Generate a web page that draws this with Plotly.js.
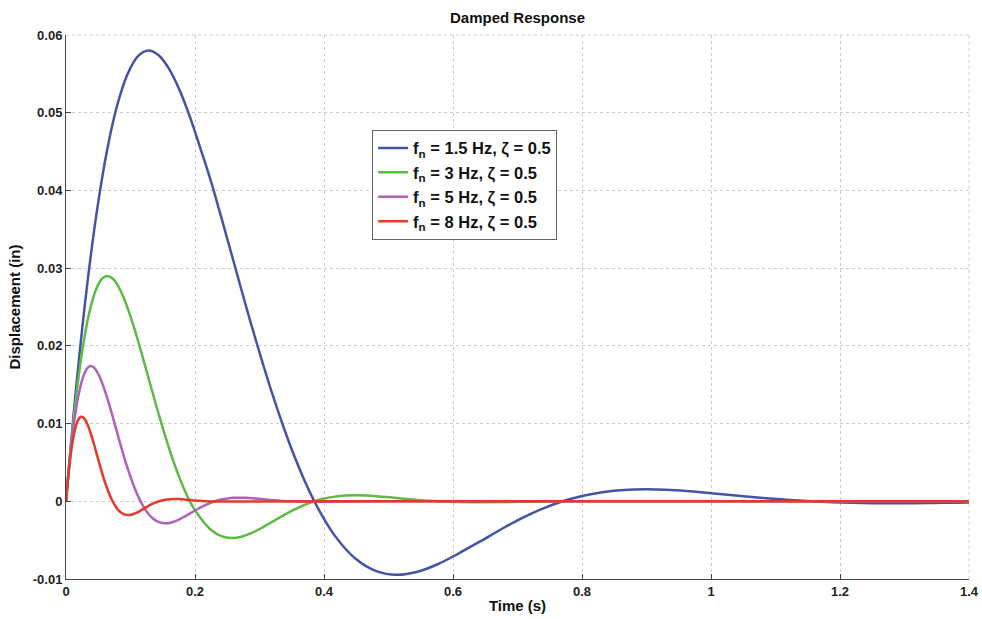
<!DOCTYPE html>
<html>
<head>
<meta charset="utf-8">
<script src="https://cdn.plot.ly/plotly-3.0.1.min.js"></script>
<style>html,body{margin:0;padding:0;background:#fff;}#chart{width:982px;height:619px;}</style>
</head>
<body>
<div id="chart"></div>
<script>
// Values
var tBlue = [0, 0.016, 0.032, 0.048, 0.064, 0.080, 0.096, 0.112, 0.128, 0.144, 0.160, 0.176, 0.192, 0.208, 0.225, 0.241, 0.257, 0.289, 0.321, 0.353, 0.385, 0.417, 0.449, 0.481, 0.513, 0.545, 0.577, 0.609, 0.642, 0.674, 0.706, 0.738, 0.770, 0.802, 0.834, 0.866, 0.898, 0.930, 0.962, 0.994, 1.026, 1.059, 1.091, 1.123, 1.155, 1.187, 1.219, 1.251, 1.283, 1.315, 1.347, 1.379, 1.400];
var yBlue = [0, 0.01484, 0.02728, 0.03740, 0.04531, 0.05115, 0.05508, 0.05731, 0.05800, 0.05737, 0.05562, 0.05293, 0.04950, 0.04551, 0.04111, 0.03646, 0.03169, 0.02224, 0.01352, 0.00602, 0, -0.00445, -0.00739, -0.00898, -0.00946, -0.00907, -0.00807, -0.00670, -0.00517, -0.00363, -0.00220, -0.00098, 0, 0.00072, 0.00120, 0.00146, 0.00154, 0.00148, 0.00132, 0.00109, 0.00084, 0.00059, 0.00036, 0.00016, 0, -0.00012, -0.00020, -0.00024, -0.00025, -0.00024, -0.00021, -0.00018, -0.00016];

var tGreen = [0, 0.008, 0.016, 0.024, 0.032, 0.040, 0.048, 0.056, 0.064, 0.072, 0.080, 0.088, 0.096, 0.104, 0.112, 0.120, 0.128, 0.144, 0.160, 0.176, 0.192, 0.209, 0.225, 0.241, 0.257, 0.273, 0.289, 0.305, 0.321, 0.337, 0.353, 0.369, 0.385, 0.401, 0.417, 0.433, 0.449, 0.465, 0.481, 0.497, 0.513, 0.529, 0.545, 0.561, 0.577, 0.609, 0.642, 0.706, 0.800, 1.000, 1.400];
var yGreen = [0, 0.00742, 0.01364, 0.01870, 0.02266, 0.02557, 0.02754, 0.02865, 0.02900, 0.02869, 0.02781, 0.02647, 0.02475, 0.02275, 0.02056, 0.01823, 0.01585, 0.01112, 0.00676, 0.00301, 0, -0.00222, -0.00369, -0.00449, -0.00473, -0.00453, -0.00404, -0.00335, -0.00258, -0.00181, -0.00110, -0.00049, 0, 0.00036, 0.00060, 0.00073, 0.00077, 0.00074, 0.00066, 0.00055, 0.00042, 0.00030, 0.00018, 0.00008, 0, -0.00010, -0.00012, -0.00007, 0, 0, 0];

var tMagenta = [0, 0.0048, 0.0096, 0.0144, 0.0192, 0.0241, 0.0289, 0.0337, 0.0385, 0.0433, 0.0481, 0.0529, 0.0577, 0.0625, 0.0674, 0.0722, 0.0770, 0.0866, 0.0962, 0.1059, 0.1155, 0.1251, 0.1347, 0.1443, 0.1540, 0.1636, 0.1732, 0.1828, 0.1925, 0.2021, 0.2117, 0.2213, 0.2309, 0.2406, 0.2502, 0.2598, 0.2694, 0.2791, 0.2887, 0.2983, 0.3079, 0.3175, 0.3272, 0.3368, 0.3464, 0.400, 0.500, 0.800, 1.400];
var yMagenta = [0, 0.00445, 0.00818, 0.01122, 0.01359, 0.01534, 0.01652, 0.01719, 0.01740, 0.01721, 0.01669, 0.01588, 0.01485, 0.01365, 0.01233, 0.01094, 0.00951, 0.00667, 0.00406, 0.00181, 0, -0.00133, -0.00222, -0.00269, -0.00284, -0.00272, -0.00242, -0.00201, -0.00155, -0.00109, -0.00066, -0.00029, 0, 0.00022, 0.00036, 0.00044, 0.00046, 0.00044, 0.00039, 0.00033, 0.00025, 0.00018, 0.00011, 0.00005, 0, -0.00006, 0, 0, 0];

var tRed = [0, 0.0030, 0.0060, 0.0090, 0.0120, 0.0150, 0.0180, 0.0210, 0.0241, 0.0271, 0.0301, 0.0331, 0.0361, 0.0391, 0.0421, 0.0451, 0.0481, 0.0541, 0.0601, 0.0662, 0.0722, 0.0782, 0.0842, 0.0902, 0.0962, 0.1022, 0.1083, 0.1143, 0.1203, 0.1263, 0.1323, 0.1383, 0.1443, 0.1504, 0.1564, 0.1624, 0.1684, 0.1744, 0.1804, 0.1864, 0.1925, 0.1985, 0.2045, 0.2105, 0.2165, 0.260, 0.400, 0.800, 1.400];
var yRed = [0, 0.00278, 0.00512, 0.00701, 0.00850, 0.00959, 0.01033, 0.01075, 0.01088, 0.01076, 0.01043, 0.00993, 0.00928, 0.00853, 0.00771, 0.00684, 0.00594, 0.00417, 0.00254, 0.00113, 0, -0.00083, -0.00139, -0.00168, -0.00177, -0.00170, -0.00151, -0.00126, -0.00097, -0.00068, -0.00041, -0.00018, 0, 0.00014, 0.00023, 0.00027, 0.00029, 0.00028, 0.00025, 0.00020, 0.00016, 0.00011, 0.00007, 0.00003, 0, -0.00003, 0, 0, 0];

var seriesNames = ["f<sub>n</sub> = 1.5 Hz, ζ = 0.5", "f<sub>n</sub> = 3 Hz, ζ = 0.5", "f<sub>n</sub> = 5 Hz, ζ = 0.5", "f<sub>n</sub> = 8 Hz, ζ = 0.5"];
var seriesColors = ["#4454a4", "#5cbb45", "#b261bb", "#e23a2a"];

var xTickVals = [0, 0.2, 0.4, 0.6, 0.8, 1.0, 1.2, 1.4];
var xTickText = ["0", "0.2", "0.4", "0.6", "0.8", "1", "1.2", "1.4"];
var yTickVals = [-0.01, 0, 0.01, 0.02, 0.03, 0.04, 0.05, 0.06];
var yTickText = ["-0.01", "0", "0.01", "0.02", "0.03", "0.04", "0.05", "0.06"];

var xs = [tBlue, tGreen, tMagenta, tRed];
var ys = [yBlue, yGreen, yMagenta, yRed];
var traces = [];
for (var i = 0; i < 4; i++) {
  traces.push({
    x: xs[i], y: ys[i], type: "scatter", mode: "lines", name: seriesNames[i],
    line: {color: seriesColors[i], width: 2.5, shape: "spline", smoothing: 1, simplify: false}
  });
}

var font = "Liberation Sans, Arial, sans-serif";
var layout = {
  width: 982, height: 619,
  margin: {l: 66, r: 13, t: 35, b: 40},
  paper_bgcolor: "#fff", plot_bgcolor: "#fff",
  font: {family: font, color: "#000"},
  title: {text: "<b>Damped Response</b>", font: {size: 15, family: font, color: "#111"}, x: 0.527, xanchor: "center", y: 0.972, yanchor: "middle", yref: "container"},
  showlegend: true,
  legend: {x: 0.339, y: 0.826, xanchor: "left", yanchor: "top", bgcolor: "#fff", bordercolor: "#666", borderwidth: 1, font: {size: 16.5, family: font, color: "#111", weight: "bold"}, tracegroupgap: 0, itemwidth: 30},
  xaxis: {
    range: [0, 1.4], tickvals: xTickVals, ticktext: xTickText,
    ticks: "inside", ticklen: 5, tickcolor: "#444",
    showline: true, linecolor: "#444", linewidth: 1, mirror: false,
    showgrid: true, gridcolor: "#cccccc", griddash: "dot", gridwidth: 1,
    zeroline: false,
    tickfont: {size: 13, family: font, color: "#222", weight: "bold"},
    title: {text: "<b>Time (s)</b>", font: {size: 15, family: font, color: "#111"}, standoff: 2}
  },
  yaxis: {
    range: [-0.01, 0.06], tickvals: yTickVals, ticktext: yTickText,
    ticks: "inside", ticklen: 5, tickcolor: "#444",
    showline: true, linecolor: "#444", linewidth: 1, mirror: false,
    showgrid: true, gridcolor: "#cccccc", griddash: "dot", gridwidth: 1,
    zeroline: false,
    tickfont: {size: 13, family: font, color: "#222", weight: "bold"},
    title: {text: "<b>Displacement (in)</b>", font: {size: 15, family: font, color: "#111"}, standoff: 8}
  },
  shapes: [
    {type: "line", xref: "paper", yref: "paper", x0: 0, x1: 1, y0: 1, y1: 1, line: {color: "#cccccc", width: 1, dash: "dot"}},
    {type: "line", xref: "paper", yref: "paper", x0: 1, x1: 1, y0: 0, y1: 1, line: {color: "#cccccc", width: 1, dash: "dot"}}
  ]
};

Plotly.newPlot("chart", traces, layout, {displayModeBar: false, staticPlot: true});
</script>
</body>
</html>
